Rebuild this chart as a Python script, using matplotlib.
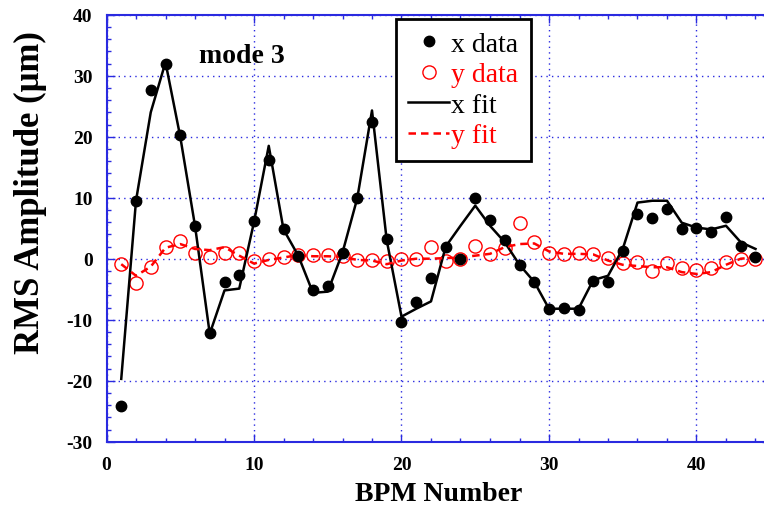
import numpy as np
import matplotlib.pyplot as plt
from matplotlib.ticker import MultipleLocator

bpm = np.arange(1, 45)

x_data = [-24.1, 9.5, 27.7, 32.0, 20.2, 5.4, -12.2, -3.9, -2.7, 6.1,
          16.2, 4.8, 0.5, -5.2, -4.5, 1.0, 9.9, 22.4, 3.2, -10.4,
          -7.1, -3.1, 2.0, 0.0, 9.9, 6.4, 3.1, -1.0, -3.8, -8.2,
          -8.0, -8.4, -3.7, -3.9, 1.2, 7.4, 6.7, 8.1, 4.9, 5.0,
          4.4, 6.9, 2.1, 0.3]
x_fit = [-19.7, 9.5, 24.0, 32.2, 20.0, 5.4, -12.3, -5.2, -4.9, 6.0,
         18.5, 4.8, 0.5, -5.6, -5.4, 1.0, 9.9, 24.3, 3.0, -9.5,
         -8.2, -7.0, 2.0, 5.4, 8.7, 5.4, 2.7, -1.0, -3.8, -8.2,
         -8.2, -8.2, -3.5, -2.8, 1.6, 9.2, 9.5, 9.5, 5.9, 5.1,
         4.8, 5.4, 2.7, 1.6]
y_data = [-0.9, -4.0, -1.4, 1.9, 2.9, 1.0, 0.3, 0.9, 0.9, -0.4,
          0.0, 0.3, 0.6, 0.6, 0.6, 0.4, -0.2, -0.2, -0.4, 0.0,
          0.0, 2.0, -0.3, 0.0, 2.1, 0.8, 1.7, 5.8, 2.7, 1.0,
          0.8, 0.9, 0.8, 0.1, -0.7, -0.6, -2.0, -0.7, -1.5, -1.8,
          -1.6, -0.5, 0.0, 0.0]
y_fit = [-0.9, -2.8, -1.3, 1.8, 2.4, 1.6, 1.4, 1.9, 0.5, -0.8,
         -0.2, 0.2, 0.6, 0.4, 0.4, 0.3, -0.2, -0.3, -0.9, -0.3,
         0.0, 0.0, 0.1, 0.2, 0.5, 0.8, 1.9, 2.4, 2.5, 1.2,
         0.8, 0.8, 0.7, -0.3, -1.0, -1.2, -1.4, -1.4, -2.2, -2.5,
         -2.2, -1.0, 0.0, 0.2]

plt.rcParams['font.family'] = ['Liberation Serif', 'DejaVu Serif']
plt.rcParams['axes.unicode_minus'] = False
blue = '#2a2ae0'

fig = plt.figure(figsize=(7.64, 5.06), dpi=100)
ax = fig.add_axes([106.5 / 764, 63.3 / 506, 663.75 / 764, 427 / 506])

ax.plot(bpm, x_data, 'o', color='black', markersize=7.5, label='x data', zorder=4)
ax.plot(bpm, y_data, 'o', mfc='none', mec='red', mew=1.0, markersize=9.5,
        label='y data', zorder=3)
ax.plot(bpm, x_fit, '-', color='black', lw=1.8, label='x fit', zorder=3)
ax.plot(bpm, y_fit, '--', color='red', lw=1.8, dashes=(3, 2), label='y fit', zorder=3)

ax.set_xlim(0, 45)
ax.set_ylim(-30, 40)
ax.xaxis.set_major_locator(MultipleLocator(10))
ax.xaxis.set_minor_locator(MultipleLocator(2))
ax.yaxis.set_major_locator(MultipleLocator(10))
ax.yaxis.set_minor_locator(MultipleLocator(2))
ax.grid(True, which='major', color=blue, linestyle=(0, (1, 3)), linewidth=1.0)
ax.tick_params(which='both', direction='in', top=True, right=True, color=blue,
               labelsize=14, pad=10)
ax.tick_params(which='major', length=6, width=1)
ax.tick_params(which='minor', length=3, width=1)
for lab in ax.get_xticklabels() + ax.get_yticklabels():
    lab.set_fontweight('bold')
for sp in ax.spines.values():
    sp.set_color(blue)
    sp.set_linewidth(1.5)

ax.set_xlabel('BPM Number', fontsize=20, fontweight='bold', labelpad=6)
ax.set_ylabel('RMS Amplitude (μm)', fontsize=25, fontweight='bold')
ax.yaxis.set_label_coords(-0.09, 0.585)
ax.text(0.14, 0.905, 'mode 3', transform=ax.transAxes, fontsize=20,
        fontweight='bold', ha='left', va='center')

leg = ax.legend(loc='upper left', bbox_to_anchor=(0.436, 0.99), fontsize=20,
                frameon=True, fancybox=False, handlelength=1.45,
                handletextpad=0.08, labelspacing=0.18, borderpad=0.45,
                borderaxespad=0)
leg.get_frame().set_edgecolor('black')
leg.get_frame().set_linewidth(2)
leg.get_frame().set_alpha(1)
for txt, c in zip(leg.get_texts(), ['black', 'red', 'black', 'red']):
    txt.set_color(c)

fig.savefig('out.png', dpi=100)
